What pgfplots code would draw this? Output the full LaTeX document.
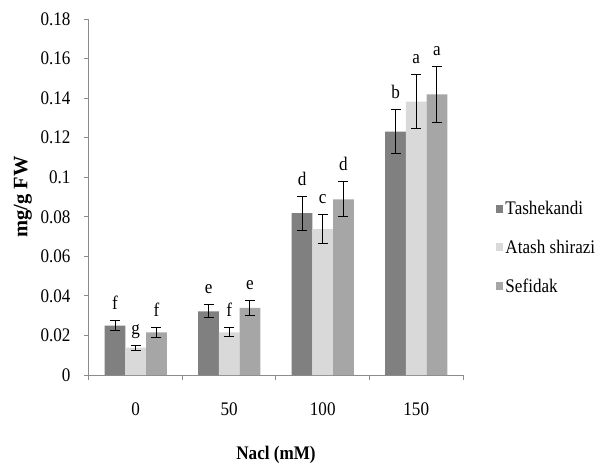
\documentclass[border=0pt]{standalone}
\usepackage{fontspec}
\setmainfont{Liberation Serif}[FakeStretch=0.89]
\newfontfamily\plainserif{Liberation Serif}
\usepackage{pgfplots}
\pgfplotsset{compat=1.18}
\definecolor{cdark}{HTML}{808080}
\definecolor{clight}{HTML}{D9D9D9}
\definecolor{cmid}{HTML}{A6A6A6}
\definecolor{axgray}{HTML}{8C8C8C}
\newcommand{\fs}{\fontsize{19.2}{22}\selectfont}
\pgfplotsset{
  sqlegend/.style={legend image code/.code={\path[##1,draw=none] (0pt,-4pt) rectangle (7pt,4pt);}},
  errs/.style={error bars/.cd, y dir=both, y explicit,
     error bar style={black, line width=1pt},
     error mark options={rotate=90, mark size=5pt, black, line width=1pt}},
  lett/.style={draw=none, fill=none, forget plot, nodes near coords, point meta=explicit symbolic,
     nodes near coords style={anchor=base, yshift=11pt, font=\fs, text=black}},
}
\begin{document}
\begin{tikzpicture}
\path[use as bounding box] (-89pt,-94pt) rectangle (517pt,375pt);
\begin{axis}[
  scale only axis, width=374pt, height=356pt,
  at={(0pt,0pt)}, anchor=south west,
  xmin=-0.5, xmax=3.5, ymin=0, ymax=0.18,
  axis x line*=bottom, axis y line*=left,
  axis line style={draw=axgray, line width=1pt, -},
  tick style={draw=axgray, line width=1pt},
  tick align=outside, major tick length=5pt,
  xtick={-0.5,0.5,1.5,2.5,3.5}, xticklabels={},
  extra x ticks={0,1,2,3}, extra x tick labels={0,50,100,150},
  extra x tick style={major tick length=0pt},
  ytick={0,0.02,0.04,0.06,0.08,0.1,0.12,0.14,0.16,0.18},
  yticklabels={0,0.02,0.04,0.06,0.08,0.1,0.12,0.14,0.16,0.18},
  /pgf/number format/assume math mode=true,
  tick label style={font=\fs, text=black},
  xticklabel style={yshift=-24pt},
  yticklabel style={xshift=-10pt},
  xlabel={\textbf{Nacl (mM)}},
  ylabel={\textbf{mg/g FW}},
  every axis x label/.style={at={(axis description cs:0.5,0)}, yshift=-80pt, anchor=center, font=\fs},
  every axis y label/.style={at={(axis description cs:0,0.5)}, xshift=-66pt, rotate=90, anchor=center,
     font=\plainserif\fontsize{20.5}{24}\selectfont},
  ybar, bar width=20.7pt,
  legend style={at={(1.081,0.50)}, anchor=north west, draw=none, fill=none,
    font=\fs, row sep=20pt, cells={anchor=west}},
]
\addplot[fill=cdark, draw=none, bar shift=-20.7pt, sqlegend, errs] coordinates {
  (0,0.0250) +- (0,0.0024)
  (1,0.0322) +- (0,0.0032)
  (2,0.0818) +- (0,0.0086)
  (3,0.1230) +- (0,0.0111)};
\addplot[fill=clight, draw=none, bar shift=0pt, sqlegend, errs] coordinates {
  (0,0.0138) +- (0,0.0012)
  (1,0.0216) +- (0,0.0023)
  (2,0.0737) +- (0,0.0072)
  (3,0.1382) +- (0,0.0136)};
\addplot[fill=cmid, draw=none, bar shift=20.7pt, sqlegend, errs] coordinates {
  (0,0.0215) +- (0,0.0024)
  (1,0.0339) +- (0,0.0037)
  (2,0.0888) +- (0,0.0088)
  (3,0.1419) +- (0,0.0142)};
\addplot[lett, bar shift=-20.7pt] coordinates {
  (0,0.0274) [f] (1,0.0354) [e] (2,0.0904) [d] (3,0.1341) [b]};
\addplot[lett, bar shift=0pt] coordinates {
  (0,0.0150) [g] (1,0.0239) [f] (2,0.0809) [c] (3,0.1518) [a]};
\addplot[lett, bar shift=20.7pt] coordinates {
  (0,0.0239) [f] (1,0.0376) [e] (2,0.0976) [d] (3,0.1561) [a]};
\legend{Tashekandi, Atash shirazi, Sefidak}
\end{axis}
\end{tikzpicture}
\end{document}
